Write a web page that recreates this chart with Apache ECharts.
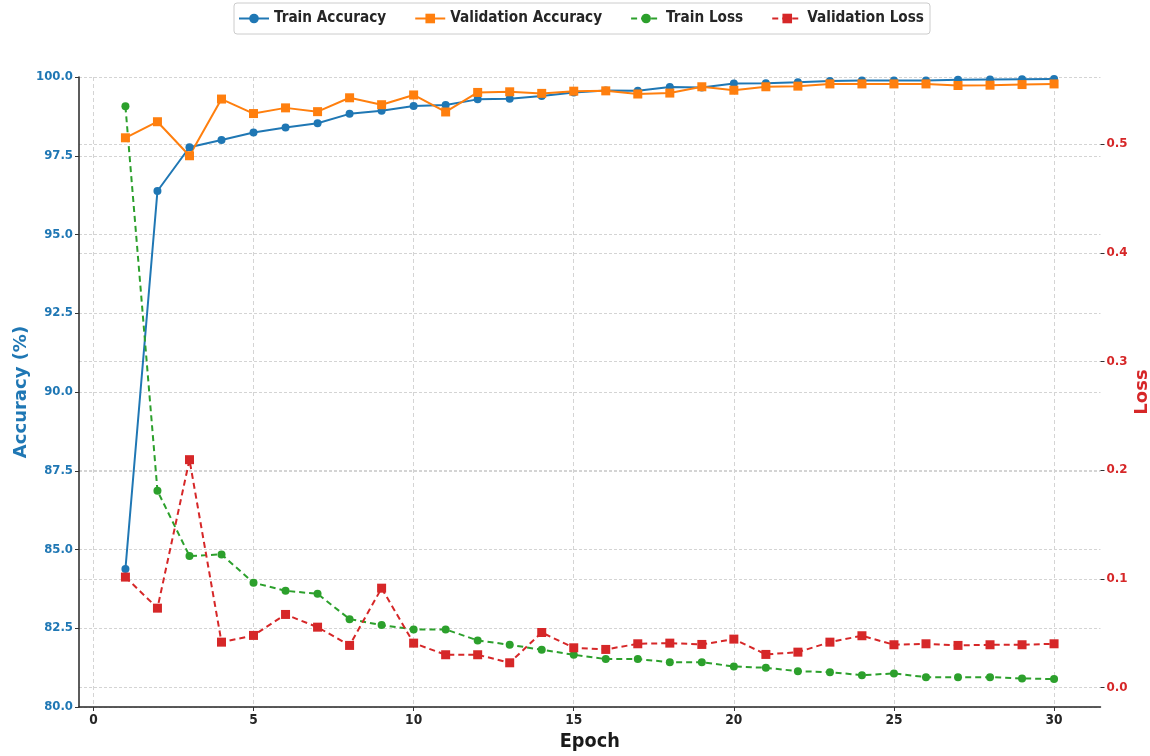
<!DOCTYPE html>
<html><head><meta charset="utf-8">
<script src="https://cdn.jsdelivr.net/npm/echarts@6/dist/echarts.min.js"></script>
<style>html,body{margin:0;padding:0;background:#fff}#c{width:1150px;height:756px}</style>
</head><body><div id="c"></div>
<script>
const epochs = [1,2,3,4,5,6,7,8,9,10,11,12,13,14,15,16,17,18,19,20,21,22,23,24,25,26,27,28,29,30];
const trainAcc = [84.38,96.38,97.77,98.00,98.24,98.40,98.53,98.83,98.93,99.08,99.11,99.29,99.31,99.40,99.51,99.57,99.56,99.68,99.67,99.79,99.80,99.83,99.87,99.89,99.89,99.89,99.91,99.92,99.93,99.94];
const valAcc = [98.07,98.58,97.50,99.30,98.84,99.02,98.90,99.34,99.12,99.43,98.89,99.51,99.53,99.48,99.55,99.56,99.46,99.49,99.69,99.58,99.69,99.71,99.78,99.78,99.78,99.78,99.73,99.74,99.76,99.78];
const trainLoss = [0.535,0.181,0.121,0.1225,0.0964,0.089,0.0862,0.0629,0.0574,0.0534,0.0534,0.0433,0.0393,0.0347,0.0301,0.0261,0.0261,0.0233,0.0233,0.0193,0.0181,0.015,0.0141,0.0113,0.0129,0.0095,0.0095,0.0095,0.0083,0.0077];
const valLoss = [0.1016,0.073,0.2097,0.0417,0.0479,0.0672,0.0555,0.0387,0.0914,0.0408,0.0301,0.0301,0.0227,0.0506,0.0365,0.035,0.0402,0.0408,0.0396,0.0445,0.0304,0.0325,0.0417,0.0476,0.0393,0.0402,0.0387,0.0393,0.0393,0.0402];
const xTicks = [0,5,10,15,20,25,30];
const lossTicks = [0,0.1,0.2,0.3,0.4,0.5];
const seriesNames = ['Train Accuracy','Validation Accuracy','Train Loss','Validation Loss'];
const axisTitles = {x:'Epoch', left:'Accuracy (%)', right:'Loss'};

const ctx = document.createElement('canvas').getContext('2d');
function hasFont(name){
  const t='Train Accuracy 0123456789';
  ctx.font='bold 40px monospace'; const a=ctx.measureText(t).width;
  ctx.font='bold 40px "'+name+'", monospace'; const b=ctx.measureText(t).width;
  ctx.font='bold 40px serif'; const c=ctx.measureText(t).width;
  ctx.font='bold 40px "'+name+'", serif'; const d=ctx.measureText(t).width;
  return a!==b || c!==d;
}
function pick(list){for(const f of list){if(hasFont(f)) return f;} return 'sans-serif';}
const narrow = pick(['Liberation Sans Narrow','DejaVu Sans Condensed','Roboto Condensed','Liberation Sans']);
const wide = pick(['DejaVu Sans','Noto Sans']);
function fit(text,target,fam){ctx.font='bold 100px "'+fam+'"';return Math.round(1000*target/ctx.measureText(text).width)/10;}
const legendSize = fit('Validation Accuracy',152,narrow);
const xLabSize = fit('30',17,narrow);
const epochSize = fit('Epoch',60,narrow);
const yLabSize = fit('100.0',37,wide);
const rLabSize = fit('0.5',21,wide);

const BLUE='#1f77b4', ORANGE='#ff7f0e', GREEN='#2ca02c', RED='#d62728';
const grid = '#d4d4d4';
const pair = (arr)=>epochs.map((e,i)=>[e,arr[i]]);

const chart = echarts.init(document.getElementById('c'),null,{renderer:'canvas'});
chart.setOption({
  animation:false,
  backgroundColor:'#fff',
  legend:{
    left:234, top:3, padding:[8,6,8,4], itemWidth:30, itemHeight:12, itemGap:28,
    borderColor:'#cccccc', borderWidth:1, borderRadius:3,
    textStyle:{fontFamily:narrow, fontWeight:'bold', fontSize:legendSize, color:'#262626'},
    data:seriesNames
  },
  grid:{left:79, right:49.5, top:77, bottom:49, containLabel:false, outerBoundsMode:'none'},
  xAxis:{
    type:'value', min:-0.45, max:31.45,
    name:axisTitles.x, nameLocation:'middle', nameGap:25, nameMoveOverlap:false,
    nameTextStyle:{fontFamily:narrow, fontWeight:'bold', fontSize:epochSize, color:'#1a1a1a'},
    axisLine:{show:true, onZero:false, lineStyle:{color:'#262626', width:1.5}},
    axisTick:{show:true, length:4, customValues:xTicks, lineStyle:{color:'#333', width:1}},
    axisLabel:{customValues:xTicks, margin:6, fontFamily:narrow, fontWeight:'bold', fontSize:xLabSize, color:'#262626'},
    splitLine:{show:true, lineStyle:{color:grid, type:[4,3], width:1}}
  },
  yAxis:[{
    type:'value', position:'left', min:80, max:100, interval:2.5,
    name:axisTitles.left, nameLocation:'middle', nameGap:49, nameRotate:90, nameMoveOverlap:false,
    nameTextStyle:{fontFamily:wide, fontWeight:'bold', fontSize:18, color:BLUE},
    axisLine:{show:true, onZero:false, lineStyle:{color:'#262626', width:1.5}},
    axisTick:{show:true, length:4, lineStyle:{color:'#333'}},
    axisLabel:{formatter:v=>v.toFixed(1), margin:6, fontFamily:wide, fontWeight:'bold', fontSize:yLabSize, color:BLUE},
    splitLine:{show:true, lineStyle:{color:grid, type:[3,2], width:1}}
  },{
    type:'value', position:'right', min:-0.018, max:0.562,
    name:axisTitles.right, nameLocation:'middle', nameGap:33, nameRotate:90, nameMoveOverlap:false,
    nameTextStyle:{fontFamily:wide, fontWeight:'bold', fontSize:18, color:RED},
    axisLine:{show:false, onZero:false},
    axisTick:{show:true, length:4, customValues:lossTicks, lineStyle:{color:'#333'}},
    axisLabel:{customValues:lossTicks, formatter:v=>v.toFixed(1), margin:6, fontFamily:wide, fontWeight:'bold', fontSize:rLabSize, color:RED},
    splitLine:{show:true, lineStyle:{color:grid, type:[3,2], width:1}}
  }],
  series:[
    {name:seriesNames[0], type:'line', yAxisIndex:0, data:pair(trainAcc), symbol:'circle', symbolSize:8,
      lineStyle:{color:BLUE, width:2}, itemStyle:{color:BLUE}},
    {name:seriesNames[1], type:'line', yAxisIndex:0, data:pair(valAcc), symbol:'rect', symbolSize:9,
      lineStyle:{color:ORANGE, width:2}, itemStyle:{color:ORANGE}},
    {name:seriesNames[2], type:'line', yAxisIndex:1, data:pair(trainLoss), symbol:'circle', symbolSize:8,
      lineStyle:{color:GREEN, width:2, type:[6,4]}, itemStyle:{color:GREEN}},
    {name:seriesNames[3], type:'line', yAxisIndex:1, data:pair(valLoss), symbol:'rect', symbolSize:9,
      lineStyle:{color:RED, width:2, type:[6,4]}, itemStyle:{color:RED}}
  ]
});
</script></body></html>
